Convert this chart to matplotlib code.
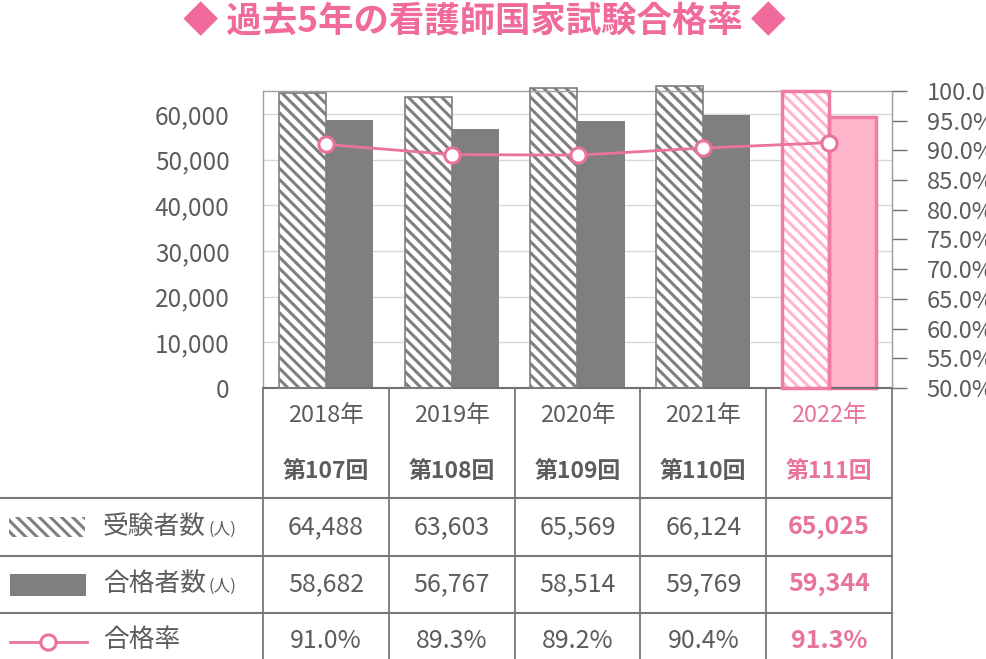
import matplotlib
matplotlib.use("Agg")
import matplotlib.pyplot as plt
from matplotlib.patches import Rectangle
from matplotlib.lines import Line2D
from matplotlib.transforms import blended_transform_factory

plt.rcParams['font.family'] = ['Noto Sans CJK JP', 'DejaVu Sans']
plt.rcParams['hatch.linewidth'] = 2.2

# ---- data ----
years = ["2018年", "2019年", "2020年", "2021年", "2022年"]
rounds = ["第107回", "第108回", "第109回", "第110回", "第111回"]
examinees = [64488, 63603, 65569, 66124, 65025]
passers = [58682, 56767, 58514, 59769, 59344]
pass_rate = [91.0, 89.3, 89.2, 90.4, 91.3]
left_ticks = [0, 10000, 20000, 30000, 40000, 50000, 60000]
right_ticks = [50, 55, 60, 65, 70, 75, 80, 85, 90, 95, 100]
row_labels = ["受験者数", "合格者数", "合格率"]
row_units = ["(人)", "(人)", ""]

GRAY = "#7f7f7f"
TXT = "#5c5c5c"
PINK = "#e8739d"
PINK_L = "#ffb6ca"
PINK_E = "#f07ba3"
HATCH = '\\\\\\'

W, H = 987, 659
fig = plt.figure(figsize=(W / 100, H / 100), dpi=100)

L, R, T, B = 263, 892, 91, 388
ax = fig.add_axes([L / W, 1 - B / H, (R - L) / W, (B - T) / H])
ax2 = ax.twinx()

n = len(years)
xs = list(range(n))
bw = 0.374

ax.set_xlim(-0.5, n - 0.5)
ax.set_ylim(0, 65000)
ax.set_yticks(left_ticks)
ax.set_yticklabels([f"{v:,}" for v in left_ticks], fontsize=17.5, color=TXT)
ax.tick_params(axis='y', length=0, pad=24)
ax.set_xticks([])
ax.grid(axis='y', color='#d8d8d8', lw=1)
ax.set_axisbelow(True)
for s in ['left', 'top', 'right']:
    ax.spines[s].set_color('#a0a0a0')
    ax.spines[s].set_linewidth(1)
ax.spines['bottom'].set_color('#707070')
ax.spines['bottom'].set_linewidth(1.5)

for i in xs:
    last = (i == n - 1)
    hc = PINK_L if last else GRAY
    ec = PINK_E if last else GRAY
    ax.bar(i - bw / 2, examinees[i], width=bw, facecolor='white', edgecolor=hc,
           hatch=HATCH, linewidth=0, clip_on=False, zorder=2)
    ax.bar(i - bw / 2, examinees[i], width=bw, facecolor='none', edgecolor=ec,
           linewidth=2.5 if last else 1.2, clip_on=False, zorder=3)
    ax.bar(i + bw / 2, passers[i], width=bw, facecolor=PINK_L if last else GRAY,
           edgecolor=ec, linewidth=2.5 if last else 0, clip_on=False, zorder=2)

ax2.set_ylim(50, 100)
ax2.set_yticks(right_ticks)
ax2.set_yticklabels([f"{v:.1f}%" for v in right_ticks], fontsize=17, color=TXT)
ax2.tick_params(axis='y', length=11, width=1, color='#707070', pad=14)
for s in ['left', 'top', 'right', 'bottom']:
    ax2.spines[s].set_visible(False)
ax2.spines['right'].set_visible(True)
ax2.spines['right'].set_color('#a0a0a0')

ax2.plot(xs, pass_rate, color=PINK, lw=2, marker='o', markersize=11,
         markerfacecolor='white', markeredgecolor=PINK, markeredgewidth=2.2,
         zorder=5, clip_on=False)

# ---- table ----
tx = blended_transform_factory(ax.transData, fig.transFigure)
def fy(p):
    return 1 - p / H

line_c = '#777777'
for k in range(n + 1):
    xb = k - 0.5
    fig.add_artist(Line2D([xb, xb], [fy(B), fy(H)], transform=tx, color=line_c, lw=1.3))
for yy in [498, 556, 613]:
    fig.add_artist(Line2D([0, R / W], [fy(yy), fy(yy)], transform=fig.transFigure,
                          color=line_c, lw=1.5))

for i in xs:
    last = (i == n - 1)
    c = PINK if last else TXT
    fig.text(i, fy(415), years[i], transform=tx, ha='center', va='center',
             fontsize=17, color=c)
    fig.text(i, fy(471), rounds[i], transform=tx, ha='center', va='center',
             fontsize=16.5, color=c, fontweight='bold')
    fw = 'bold' if last else 'normal'
    fig.text(i, fy(527), f"{examinees[i]:,}", transform=tx, ha='center', va='center',
             fontsize=18, color=c, fontweight=fw)
    fig.text(i, fy(584), f"{passers[i]:,}", transform=tx, ha='center', va='center',
             fontsize=18, color=c, fontweight=fw)
    fig.text(i, fy(641), f"{pass_rate[i]:.1f}%", transform=tx, ha='center', va='center',
             fontsize=18, color=c, fontweight=fw)

# legend column
fig.add_artist(Rectangle((9 / W, fy(537)), 76 / W, 20 / H, transform=fig.transFigure,
                         facecolor='white', edgecolor=GRAY, hatch=HATCH, lw=0))
fig.add_artist(Rectangle((10 / W, fy(596)), 76 / W, 22 / H, transform=fig.transFigure,
                         facecolor=GRAY, edgecolor='none'))
fig.add_artist(Line2D([10 / W, 87 / W], [fy(642), fy(642)], transform=fig.transFigure,
                      color=PINK, lw=2))
fig.add_artist(Line2D([48 / W], [fy(642)], transform=fig.transFigure, color=PINK,
                      marker='o', markersize=11, markerfacecolor='white',
                      markeredgecolor=PINK, markeredgewidth=2.2))

for lbl, yy, unit in zip(row_labels, [527, 584, 640], row_units):
    fig.text(103 / W, fy(yy), lbl, ha='left', va='center', fontsize=18.5, color=TXT)
    if unit:
        fig.text(208 / W, fy(yy + 2), unit, ha='left', va='center', fontsize=12, color=TXT)

fig.text(0.491, fy(22), "◆ 過去5年の看護師国家試験合格率 ◆", ha='center', va='center',
         fontsize=25.5, color='#f06b9b', fontweight='bold')

fig.savefig("out.png", dpi=100)
